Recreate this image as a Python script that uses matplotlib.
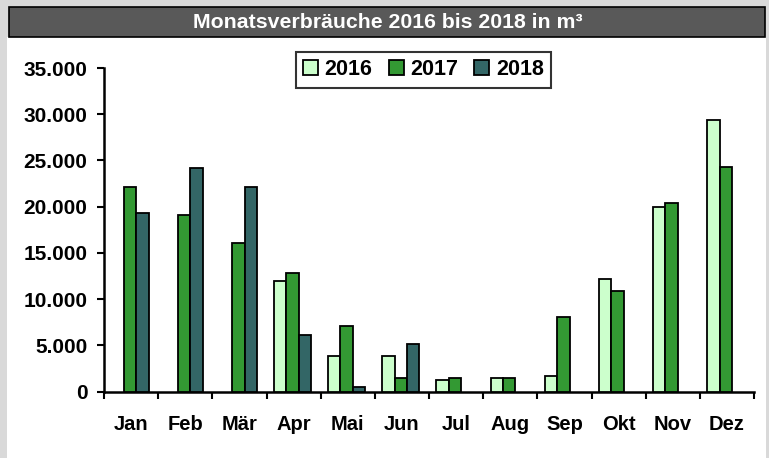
import numpy as np
import matplotlib.pyplot as plt
from matplotlib.patches import Rectangle
from matplotlib.ticker import FuncFormatter, MultipleLocator, FixedLocator

plt.rcParams['font.family'] = ['Liberation Sans', 'DejaVu Sans']
plt.rcParams['font.weight'] = 'bold'

months = ['Jan', 'Feb', 'Mär', 'Apr', 'Mai', 'Jun', 'Jul', 'Aug', 'Sep', 'Okt', 'Nov', 'Dez']
v2016 = [np.nan, np.nan, np.nan, 11970, 3890, 3890, 1300, 1510, 1730, 12150, 20000, 29370]
v2017 = [22150, 19150, 16100, 12830, 7130, 1510, 1510, 1510, 8070, 10850, 20430, 24320]
v2018 = [19350, 24150, 22150, 6100, 470, 5190, np.nan, np.nan, np.nan, np.nan, np.nan, np.nan]
years = ['2016', '2017', '2018']
colors = ['#ccffcc', '#339933', '#336666']

W, H = 769, 458
fig = plt.figure(figsize=(W / 100, H / 100), dpi=100)
fig.patch.set_facecolor('#d9d9d9')

# white panel and dark title bar
fig.patches.append(Rectangle((7 / W, 0), 759 / W, 1 - 37 / H, transform=fig.transFigure,
                             facecolor='white', edgecolor='none', zorder=-2))
fig.patches.append(Rectangle((9 / W, 1 - 37.3 / H), 756 / W, 30.3 / H, transform=fig.transFigure,
                             facecolor='#595959', edgecolor='black', linewidth=1.2, zorder=-1))
fig.text(387.5 / W, 1 - 22.5 / H, 'Monatsverbräuche 2016 bis 2018 in m³', color='white',
         fontsize=15.3, fontweight='bold', ha='center', va='center')

ax = fig.add_axes([104 / W, 1 - 391.7 / H, 650 / W, 323.7 / H])
ax.set_facecolor('none')

x = np.arange(len(months))
bw = 0.228
for k, (vals, c, lab) in enumerate(zip([v2016, v2017, v2018], colors, years)):
    ax.bar(x + (k - 1) * bw - 0.02, vals, bw, color=c, edgecolor='black', linewidth=1.3, label=lab, zorder=3)

ax.set_xlim(-0.5, 11.5)
ax.set_ylim(0, 35000)
ax.yaxis.set_major_locator(MultipleLocator(5000))
ax.yaxis.set_major_formatter(FuncFormatter(lambda v, p: f'{v:,.0f}'.replace(',', '.')))
ax.set_xticks(x)
ax.set_xticklabels(months)
ax.xaxis.set_minor_locator(FixedLocator(np.arange(-0.5, 12, 1)))
ax.tick_params(axis='x', which='major', length=0, pad=17, labelsize=14.5)
ax.tick_params(axis='x', which='minor', length=5, width=1.5, direction='out')
ax.tick_params(axis='y', length=5, width=1.5, direction='out', pad=7, labelsize=15)
for t in ax.get_xticklabels() + ax.get_yticklabels():
    t.set_fontweight('bold')

for s in ['top', 'right']:
    ax.spines[s].set_visible(False)
for s in ['left', 'bottom']:
    ax.spines[s].set_linewidth(1.8)

leg = ax.legend(loc='upper center', bbox_to_anchor=(0.4915, 1.05), ncol=3,
                frameon=True, fancybox=False, fontsize=15.5, handlelength=0.7, handleheight=0.7,
                handletextpad=0.3, columnspacing=0.75, borderpad=0.35, borderaxespad=0)
leg.get_frame().set_edgecolor('black')
leg.get_frame().set_linewidth(1.5)
for t in leg.get_texts():
    t.set_fontweight('bold')

fig.savefig('out.png', dpi=100)
